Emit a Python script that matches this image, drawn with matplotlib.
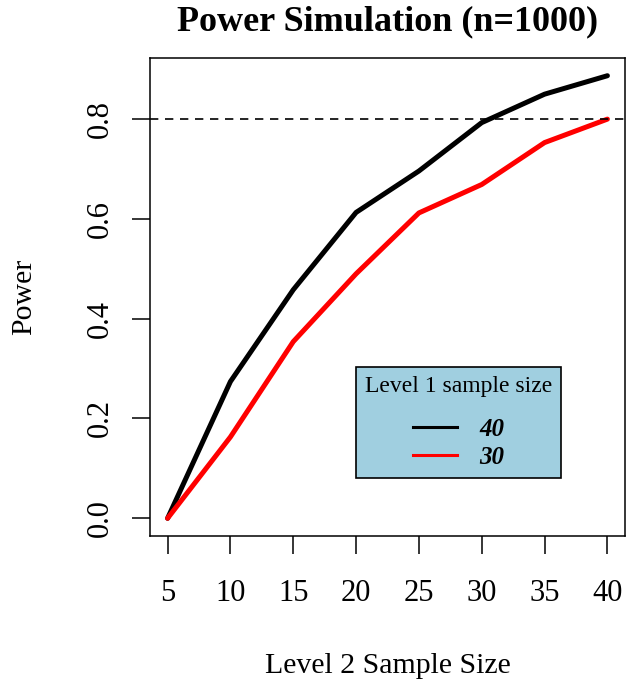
import matplotlib.pyplot as plt
from matplotlib.lines import Line2D

plt.rcParams["font.family"] = ["Liberation Serif", "DejaVu Serif"]

sample_size = [5, 10, 15, 20, 25, 30, 35, 40]
power_40 = [0.0, 0.274, 0.458, 0.613, 0.696, 0.793, 0.850, 0.887]
power_30 = [0.0, 0.163, 0.354, 0.490, 0.612, 0.669, 0.753, 0.800]
x_ticks = [5, 10, 15, 20, 25, 30, 35, 40]
y_ticks = [0.0, 0.2, 0.4, 0.6, 0.8]
legend_labels = ["40", "30"]
target_power = 0.8

fig = plt.figure(figsize=(6.26, 6.84), dpi=100)
ax = fig.add_axes([150 / 626, 1 - 536 / 684, 475 / 626, 478 / 684])

ax.plot(sample_size, power_40, color="black", lw=3.6, solid_capstyle="round", solid_joinstyle="round")
ax.plot(sample_size, power_30, color="red", lw=3.6, solid_capstyle="round", solid_joinstyle="round")
ax.axhline(target_power, color="black", lw=1.2, linestyle=(0, (5, 4)))

ax.set_xlim(3.6, 41.4)
ax.set_ylim(-0.0355, 0.9225)
ax.set_xticks(x_ticks)
ax.set_yticks(y_ticks)
ax.set_xticklabels([str(v) for v in x_ticks], fontsize=22)
ax.set_yticklabels([f"{v:.1f}" for v in y_ticks], fontsize=22, rotation=90, va="center")
ax.tick_params(direction="out", length=13, width=1.1)
ax.tick_params(axis="x", pad=18)
ax.tick_params(axis="y", pad=12)
for s in ax.spines.values():
    s.set_linewidth(1.1)

ax.set_title("Power Simulation (n=1000)", fontsize=26, fontweight="bold",
             y=1 + 36 / 478, va="center", pad=0)
ax.set_xlabel("Level 2 Sample Size", fontsize=21.5)
ax.xaxis.set_label_coords(0.5, -130 / 478)
ax.xaxis.label.set_va("center")
ax.set_ylabel("Power", fontsize=21.5)
ax.yaxis.set_label_coords(-126 / 475, 0.5)
ax.yaxis.label.set_va("center")

handles = [Line2D([], [], color="black", lw=2.2), Line2D([], [], color="red", lw=2.2)]
leg = ax.legend(handles, legend_labels, title="Level 1 sample size",
                loc="upper left", bbox_to_anchor=(206 / 475, 1 - 309 / 478), borderaxespad=0,
                frameon=True, fancybox=False, facecolor="#a0cfe0", edgecolor="black",
                framealpha=1, title_fontsize=17, fontsize=18, handlelength=1.75,
                handletextpad=0.9, borderpad=0.36, labelspacing=0.2)
leg.get_frame().set_linewidth(1.2)
# R's legend leaves a larger gap under the title than between entries
leg._legend_box.sep = 15
for t in leg.get_texts():
    t.set_fontstyle("italic")
    t.set_fontweight("bold")

fig.savefig("out.png", dpi=100)
